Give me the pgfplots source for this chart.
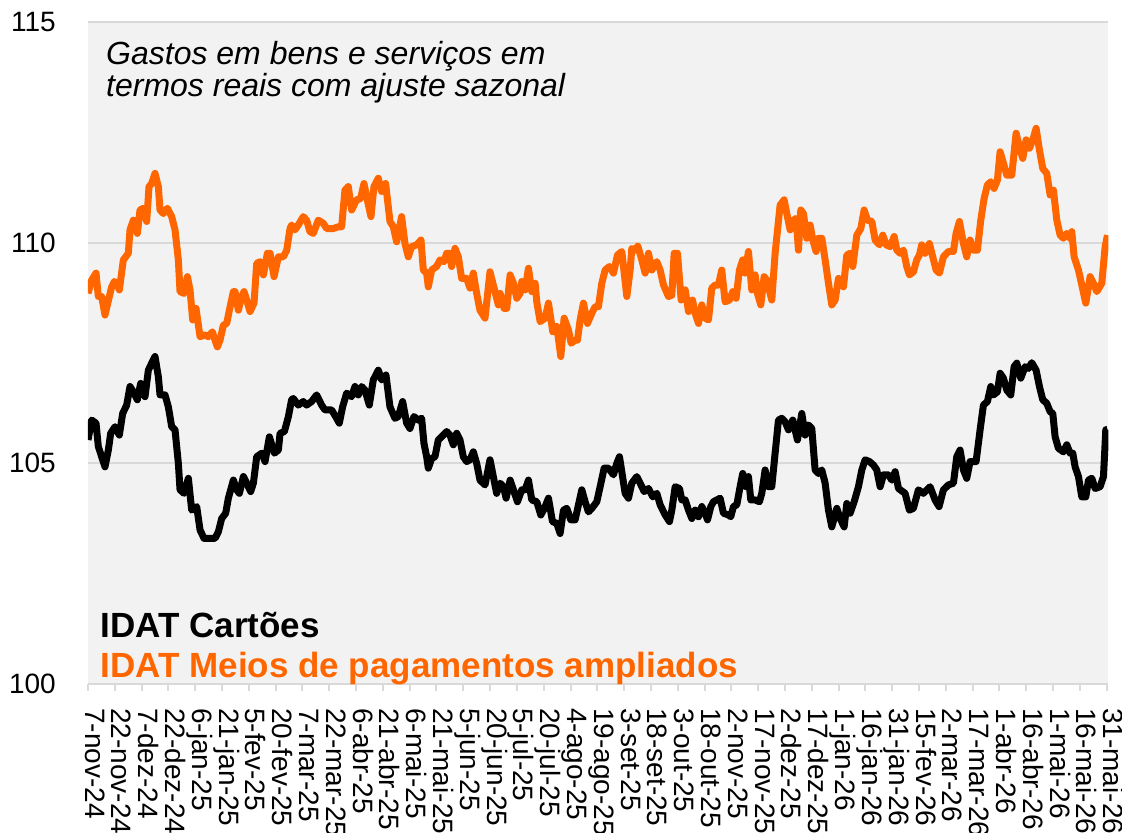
\documentclass[border=0pt]{standalone}
\usepackage{fontspec}
\setmainfont{Liberation Sans}
\usepackage{pgfplots}
\pgfplotsset{compat=1.18}
\usepackage{pgfplotstable}
\definecolor{orangeline}{HTML}{FF6600}
\definecolor{plotbg}{HTML}{F2F2F2}
\definecolor{gridc}{HTML}{D9D9D9}

\pgfplotstableread{
day val
0 105.53
2.05 105.98
4.48 105.91
5.78 105.38
7.65 105.15
9.51 104.92
11.38 105.30
12.69 105.68
15.11 105.83
17.54 105.64
19.40 106.13
21.64 106.32
23.51 106.74
25.75 106.59
27.61 106.44
29.48 106.81
31.90 106.51
33.77 107.11
35.63 107.27
37.50 107.42
39.37 106.96
40.30 106.55
43.10 106.55
44.96 106.28
46.83 105.83
48.69 105.76
50.56 105.00
51.49 104.40
53.73 104.32
56.16 104.66
58.02 103.94
60.82 104.02
62.69 103.49
64.93 103.30
68.28 103.30
71.08 103.30
72.95 103.45
74.81 103.75
77.05 103.87
78.54 104.21
81.34 104.62
83.21 104.40
84.70 104.32
86.94 104.70
88.81 104.55
91.04 104.36
92.54 104.55
94.40 105.15
97.20 105.23
99.07 105.04
101.49 105.60
104.29 105.23
106.53 105.30
107.46 105.68
109.89 105.72
112.13 106.06
113.93 106.44
114.87 106.47
117.66 106.32
120.46 106.40
122.33 106.32
125.13 106.40
127.93 106.55
130.72 106.32
132.59 106.21
136.32 106.21
139.12 106.02
140.61 105.91
142.48 106.28
144.72 106.59
147.51 106.51
149.38 106.74
151.25 106.55
153.11 106.74
154.98 106.66
157.40 106.32
159.64 106.89
162.44 107.11
164.31 106.89
166.73 107.00
168.97 106.28
171.77 106.02
173.63 106.06
176.06 106.40
178.30 105.91
180.16 105.79
182.40 106.06
184.83 105.98
186.69 106.02
188.00 105.45
189.49 105.15
190.42 104.89
192.29 105.11
194.16 105.15
196.02 105.53
198.82 105.64
200.69 105.72
202.55 105.64
204.42 105.42
206.28 105.68
208.15 105.53
210.01 105.15
211.88 105.04
213.75 105.08
215.61 105.26
217.48 105.00
219.34 104.62
222.14 104.51
224.94 105.08
226.81 104.70
228.67 104.32
230.60 104.55
232.47 104.47
233.96 104.21
236.20 104.62
238.06 104.40
240.30 104.13
242.73 104.40
244.59 104.40
246.46 104.62
248.32 104.17
251.12 104.13
253.36 103.83
255.41 103.98
257.65 104.21
259.89 103.68
262.32 103.64
264.18 103.41
266.05 103.94
267.91 103.98
270.15 103.72
272.58 103.72
274.44 104.06
276.31 104.40
278.17 104.13
280.04 103.90
281.91 103.98
284.70 104.13
286.57 104.47
288.81 104.89
291.23 104.89
294.03 104.74
295.90 105.00
297.39 105.15
298.70 104.81
300.56 104.32
302.43 104.21
304.29 104.55
307.09 104.70
308.96 104.55
311.20 104.36
313.62 104.43
316.05 104.24
318.29 104.32
320.15 104.06
322.95 103.83
325.37 103.68
326.68 103.94
328.55 104.47
330.97 104.43
332.28 104.17
334.15 104.17
336.01 103.94
337.88 103.75
339.74 103.94
341.61 103.79
343.47 104.02
345.34 103.87
346.64 103.72
348.51 104.02
349.97 104.13
353.70 104.21
355.56 103.87
358.36 103.83
359.67 103.79
361.16 104.02
363.03 104.06
364.89 104.47
366.38 104.77
368.25 104.47
369.56 104.70
370.86 104.17
373.29 104.17
375.71 104.13
377.02 104.32
378.88 104.85
380.75 104.47
382.61 104.47
384.48 105.23
386.35 105.98
388.21 106.02
390.08 105.94
391.94 105.76
394.37 105.98
396.98 105.53
399.41 106.13
401.27 105.64
403.14 105.87
405.00 105.79
406.87 104.85
408.73 104.77
410.60 104.85
412.47 104.55
414.33 103.94
416.20 103.56
419.00 103.98
420.86 103.75
423.10 103.56
424.59 104.09
426.46 103.87
428.70 104.13
431.12 104.47
432.99 104.85
434.85 105.08
437.28 105.04
439.52 104.96
441.38 104.85
443.25 104.47
445.12 104.74
447.91 104.74
449.78 104.62
451.64 104.81
453.51 104.43
457.20 104.32
459.62 103.94
461.86 103.98
464.66 104.40
467.46 104.32
471.19 104.47
473.99 104.17
476.23 104.02
478.65 104.40
481.45 104.51
484.25 104.55
486.12 105.15
487.98 105.30
489.85 104.85
491.71 104.66
493.58 105.04
496.94 105.04
499.18 105.76
501.04 106.32
503.28 106.40
505.15 106.74
506.64 106.55
508.88 106.62
510.37 107.04
512.24 106.93
514.10 106.66
516.34 106.55
518.21 107.19
519.70 107.27
521.94 106.93
524.36 107.19
526.23 107.15
528.09 107.28
530.52 107.11
532.39 106.74
534.25 106.44
536.49 106.36
538.36 106.17
539.85 106.13
541.16 105.60
543.02 105.34
545.82 105.26
547.69 105.42
549.55 105.23
551.04 105.23
552.35 104.92
554.22 104.70
556.08 104.24
558.32 104.24
559.81 104.62
561.68 104.66
563.54 104.43
566.34 104.47
568.21 104.70
569.51 105.76
570.45 105.77
}\cartoes

\pgfplotstableread{
day val
0 108.85
2.05 109.15
4.48 109.31
5.78 108.78
7.65 108.78
9.51 108.36
11.94 108.78
13.25 109.00
14.74 109.12
16.04 109.08
17.54 108.93
19.78 109.61
22.57 109.76
23.51 110.29
25.37 110.51
27.61 110.21
29.10 110.74
30.97 110.78
32.84 110.48
34.14 111.27
35.63 111.34
37.50 111.57
39.37 111.27
40.30 110.74
42.16 110.66
44.40 110.78
46.83 110.59
48.69 110.29
50.56 109.61
51.49 108.89
53.73 108.85
55.60 109.23
57.09 108.93
58.58 108.25
60.45 108.51
62.69 107.87
65.49 107.91
67.35 107.87
69.59 107.98
71.08 107.79
72.39 107.64
73.88 107.79
75.75 108.13
77.61 108.17
79.10 108.47
81.34 108.89
82.28 108.89
84.14 108.47
86.01 108.78
87.31 108.89
88.81 108.70
90.67 108.44
92.91 108.63
94.40 109.53
96.27 109.57
98.13 109.27
100.37 109.76
101.87 109.76
104.10 109.23
106.53 109.68
109.33 109.68
111.19 109.83
113.06 110.32
113.93 110.40
115.80 110.29
117.66 110.40
120.46 110.59
122.33 110.51
124.19 110.25
126.06 110.21
128.86 110.51
131.66 110.44
133.52 110.32
137.25 110.32
140.05 110.36
141.92 110.36
143.78 111.19
145.65 111.27
147.51 110.74
150.31 110.97
152.55 111.00
154.42 111.34
156.28 110.97
158.33 110.59
160.01 111.27
162.44 111.46
164.31 111.16
166.54 111.34
168.97 110.48
170.84 110.36
172.70 110.02
175.50 110.59
177.37 109.98
179.23 109.68
181.10 109.91
183.90 109.95
186.32 110.06
187.63 109.38
189.49 109.31
190.42 109.00
192.29 109.38
195.09 109.46
196.96 109.61
199.19 109.57
200.69 109.76
202.18 109.76
203.49 109.46
205.35 109.87
207.22 109.68
209.08 109.19
211.88 109.19
213.75 108.97
215.61 109.31
217.48 108.85
219.34 108.47
222.14 108.29
224.94 109.34
227.74 108.89
229.60 108.59
230.60 108.85
232.84 108.51
234.33 108.51
236.20 109.27
238.06 109.08
239.93 108.74
241.79 108.85
242.73 109.12
244.59 108.93
246.46 109.42
248.32 108.89
250.19 109.08
251.12 108.66
252.99 108.21
255.79 108.29
257.65 108.63
260.08 107.98
262.32 108.10
264.56 107.42
266.42 108.29
268.85 108.02
270.34 107.72
272.58 107.79
273.88 107.79
275.38 108.25
277.24 108.63
279.48 108.17
281.91 108.40
283.77 108.55
285.64 108.55
287.50 109.08
289.37 109.38
291.79 109.46
294.03 109.31
296.27 109.72
298.70 109.80
301.50 108.78
303.36 109.38
304.29 109.87
306.16 109.83
307.65 109.92
309.89 109.61
311.76 109.31
313.62 109.76
315.49 109.38
318.29 109.57
320.15 109.38
322.02 109.04
324.82 108.78
326.68 108.81
327.99 109.76
329.85 109.76
331.91 108.70
334.15 108.93
336.01 108.44
338.25 108.70
339.74 108.40
341.61 108.17
343.47 108.59
345.34 108.29
347.20 108.25
349.03 108.97
350.90 109.04
352.76 109.04
354.63 109.38
356.50 108.66
358.92 108.70
360.79 108.89
362.65 108.74
364.52 109.38
366.38 109.61
367.69 109.31
369.56 109.80
371.42 108.93
373.29 109.27
374.59 108.85
376.46 108.59
378.32 109.23
379.82 109.15
382.61 108.70
384.48 109.76
387.28 110.85
389.52 110.97
391.01 110.66
392.88 110.29
394.74 110.51
396.23 110.55
397.54 109.83
398.85 110.74
400.34 110.66
402.20 110.10
404.07 110.40
405.56 110.06
407.43 109.80
408.73 110.10
410.60 110.10
412.47 109.61
414.33 109.08
416.20 108.59
418.06 108.70
419.93 109.19
422.73 109.00
424.59 109.72
426.46 109.76
427.95 109.46
430.19 110.17
432.43 110.32
434.29 110.74
436.16 110.51
438.59 110.48
440.45 110.06
442.88 109.95
444.74 110.17
446.61 109.95
448.85 109.91
451.09 110.14
452.58 109.83
454.40 109.76
456.27 109.83
458.13 109.46
459.62 109.27
461.86 109.34
463.73 109.61
465.22 109.72
466.53 109.95
468.39 109.76
470.82 109.98
472.68 109.68
474.55 109.38
476.41 109.31
478.65 109.68
481.45 109.80
484.25 109.80
485.74 110.21
487.61 110.48
489.85 109.98
491.71 109.68
493.58 110.06
495.44 109.83
497.68 109.83
499.55 110.51
501.42 111.00
503.28 111.31
505.15 111.38
507.01 111.23
508.88 111.42
510.37 112.06
512.24 111.80
514.10 111.53
516.90 111.53
519.33 112.48
521.57 112.10
523.06 111.91
524.93 112.33
526.79 112.14
528.66 112.33
530.52 112.59
532.39 112.10
534.25 111.68
536.49 111.57
538.36 111.08
540.22 111.19
542.09 110.51
543.96 110.17
545.82 110.10
547.69 110.21
549.55 110.10
550.48 110.25
551.79 109.68
554.22 109.38
556.08 109.04
558.32 108.63
560.75 109.23
562.61 109.08
564.48 108.89
567.27 109.08
569.14 109.91
570.45 110.17
}\ampliados

\begin{document}
\begin{tikzpicture}
\useasboundingbox (-88bp,-149bp) rectangle (1034bp,684bp);
\begin{axis}[
  at={(0,0)}, anchor=south west,
  scale only axis, width=1020.4bp, height=662bp,
  xmin=0, xmax=571, ymin=100, ymax=115,
  axis background/.style={fill=plotbg},
  axis line style={draw=none},
  ytick={100,105,110,115},
  ymajorgrids, grid style={gridc, line width=2bp},
  xtick={0,15,...,570},
  xticklabels={7-nov-24,22-nov-24,7-dez-24,22-dez-24,6-jan-25,21-jan-25,5-fev-25,20-fev-25,7-mar-25,22-mar-25,6-abr-25,21-abr-25,6-mai-25,21-mai-25,5-jun-25,20-jun-25,5-jul-25,20-jul-25,4-ago-25,19-ago-25,3-set-25,18-set-25,3-out-25,18-out-25,2-nov-25,17-nov-25,2-dez-25,17-dez-25,1-jan-26,16-jan-26,31-jan-26,15-fev-26,2-mar-26,17-mar-26,1-abr-26,16-abr-26,1-mai-26,16-mai-26,31-mai-26},
  xtick pos=bottom, ytick pos=left, tick align=outside,
  major tick length=7bp,
  xtick style={gridc, line width=2bp},
  ytick style={draw=none},
  ticklabel style={font=\fontsize{28bp}{30bp}\selectfont, text=black},
  xticklabel style={rotate=-90, anchor=west, inner sep=0pt, text height=0.8em, text depth=0.2em},
  yticklabel style={anchor=east, inner sep=0pt},
  xticklabel shift=17bp, yticklabel shift=25bp,
  /pgf/number format/assume math mode=true,
  every axis plot/.append style={line width=7bp, line join=round, no markers},
]
\addplot[orangeline] table[x=day, y=val] {\ampliados};
\addplot[black] table[x=day, y=val] {\cartoes};
\end{axis}
\node[anchor=base west, inner sep=0pt, font=\fontsize{32bp}{34bp}\selectfont\itshape] at (18bp,619bp) {Gastos em bens e serviços em};
\node[anchor=base west, inner sep=0pt, font=\fontsize{32bp}{34bp}\selectfont\itshape] at (18bp,587bp) {termos reais com ajuste sazonal};
\node[anchor=base west, inner sep=0pt, font=\fontsize{35bp}{37bp}\selectfont\bfseries] at (12.5bp,46bp) {IDAT Cartões};
\node[anchor=base west, inner sep=0pt, text=orangeline, font=\fontsize{35bp}{37bp}\selectfont\bfseries] at (12.5bp,6.3bp) {IDAT Meios de pagamentos ampliados};
\end{tikzpicture}
\end{document}
